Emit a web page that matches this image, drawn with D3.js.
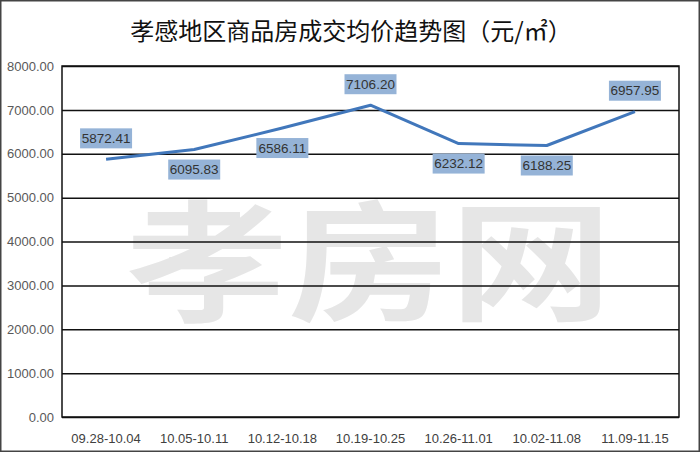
<!DOCTYPE html>
<html>
<head>
<meta charset="utf-8">
<script src="https://cdn.jsdelivr.net/npm/d3@7"></script>
<style>
  body { margin: 0; background: #fff; }
  svg { display: block; }
</style>
</head>
<body>
<svg width="700" height="452"></svg>
<script>
var categories = ["09.28-10.04", "10.05-10.11", "10.12-10.18", "10.19-10.25", "10.26-11.01", "10.02-11.08", "11.09-11.15"];
var prices = [5872.41, 6095.83, 6586.11, 7106.20, 6232.12, 6188.25, 6957.95];
var labelSide = ["above", "below", "below", "above", "below", "below", "above"];
var yTicks = [0, 1000, 2000, 3000, 4000, 5000, 6000, 7000, 8000];
var title = "孝感地区商品房成交均价趋势图（元/㎡）";
var watermark = "孝房网";

var svg = d3.select("svg"),
  margin = { top: 66, right: 21, bottom: 35, left: 62 },
  width = +svg.attr("width") - margin.left - margin.right,
  height = +svg.attr("height") - margin.top - margin.bottom;

var x = d3.scaleBand().domain(categories).range([0, width]),
  y = d3.scaleLinear().domain([0, 8000]).range([height, 0]);

// outer frame
svg.append("rect")
  .attr("x", 0.75).attr("y", 0.75)
  .attr("width", 698.5).attr("height", 450.5)
  .attr("fill", "#fff")
  .attr("stroke", "#444")
  .attr("stroke-width", 1.5);

svg.append("text")
  .attr("x", 351).attr("y", 40)
  .attr("text-anchor", "middle")
  .attr("font-family", "'Noto Sans CJK SC', sans-serif")
  .attr("font-size", 24)
  .attr("fill", "#111")
  .text(title);

var g = svg.append("g")
  .attr("transform", "translate(" + margin.left + "," + margin.top + ")");

// watermark behind grid, squeezed vertically
g.append("text")
  .attr("transform", "translate(64,244) scale(1,1.3)")
  .attr("font-family", "'Noto Sans CJK SC', sans-serif")
  .attr("font-weight", 700)
  .attr("font-size", 100)
  .attr("textLength", 486)
  .attr("lengthAdjust", "spacingAndGlyphs")
  .attr("fill", "#e6e6e6")
  .text(watermark);

var yAxis = d3.axisLeft(y).tickValues(yTicks).tickSize(-width).tickFormat(d3.format(".2f"));

g.append("g")
  .attr("class", "axis axis--y")
  .call(yAxis)
  .call(function(sel) {
    sel.select(".domain").remove();
    sel.selectAll(".tick line").attr("stroke", "#111").attr("stroke-width", 1.5);
    sel.selectAll(".tick text")
      .attr("x", -8)
      .attr("font-family", "'Liberation Sans Narrow', 'Liberation Sans', sans-serif")
      .attr("font-size", 13)
      .attr("fill", "#595959");
  });

g.append("rect")
  .attr("width", width).attr("height", height)
  .attr("fill", "none")
  .attr("stroke", "#111")
  .attr("stroke-width", 1.5);

var xAxis = d3.axisBottom(x).tickSize(0);

g.append("g")
  .attr("class", "axis axis--x")
  .attr("transform", "translate(0," + height + ")")
  .call(xAxis)
  .call(function(sel) {
    sel.select(".domain").remove();
    sel.selectAll(".tick text")
      .attr("dy", 0)
      .attr("y", 26)
      .attr("font-family", "'Liberation Sans Narrow', 'Liberation Sans', sans-serif")
      .attr("font-size", 13)
      .attr("fill", "#404040");
  });

var line = d3.line()
  .x(function(d, i) { return x(categories[i]) + x.bandwidth() / 2; })
  .y(function(d) { return y(d); });

g.append("path")
  .datum(prices)
  .attr("d", line)
  .attr("fill", "none")
  .attr("stroke", "#4177bb")
  .attr("stroke-width", 3)
  .attr("stroke-linejoin", "round");

var labels = g.selectAll(".label")
  .data(prices)
  .enter()
  .append("g")
  .attr("class", "label")
  .attr("transform", function(d, i) {
    var off = labelSide[i] === "above" ? -21 : 20;
    return "translate(" + (x(categories[i]) + x.bandwidth() / 2) + "," + (y(d) + off) + ")";
  });

labels.append("rect")
  .attr("x", -26).attr("y", -10)
  .attr("width", 52).attr("height", 20)
  .attr("fill", "#95b3d7");

labels.append("text")
  .attr("text-anchor", "middle")
  .attr("dy", "0.35em")
  .attr("font-family", "'Liberation Sans Narrow', 'Liberation Sans', sans-serif")
  .attr("font-size", 13.5)
  .attr("fill", "#333")
  .text(function(d) { return d.toFixed(2); });
</script>
</body>
</html>
